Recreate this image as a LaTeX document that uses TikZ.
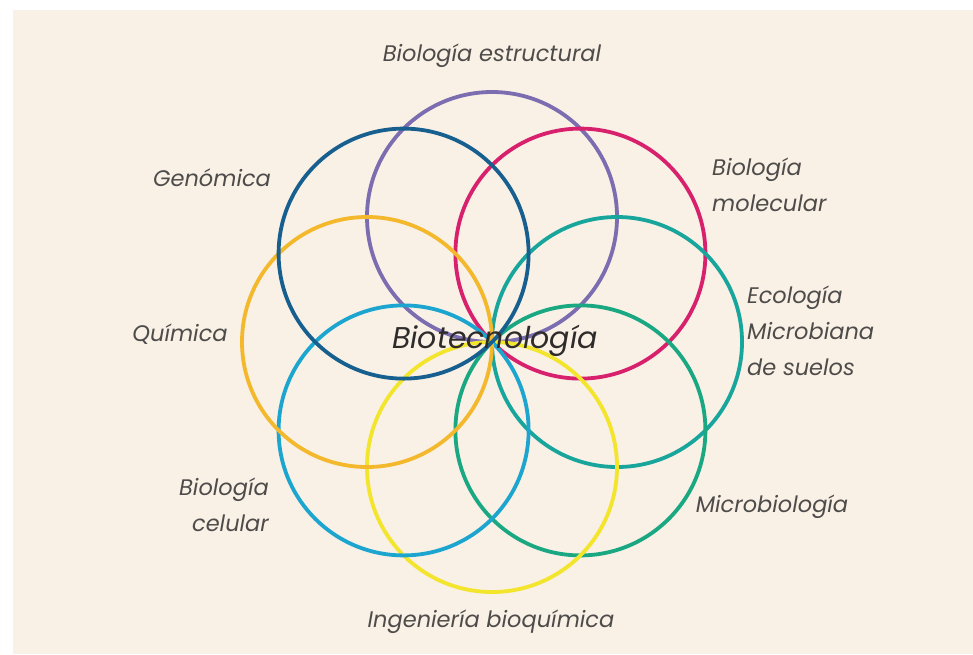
\documentclass[tikz,border=0pt]{standalone}
\usepackage{fontspec}
\setmainfont{Poppins}
\definecolor{bgbeige}{HTML}{F9F0E6}
\definecolor{labelgray}{HTML}{4E4C4A}
\definecolor{titlegray}{HTML}{2E2C2A}
\definecolor{cpurple}{HTML}{7B6DB0}
\definecolor{cpink}{HTML}{D8216C}
\definecolor{cteal}{HTML}{17A59C}
\definecolor{cgreen}{HTML}{1AA882}
\definecolor{cyellow}{HTML}{F2E52C}
\definecolor{ccyan}{HTML}{1CA6CF}
\definecolor{corange}{HTML}{F3B82C}
\definecolor{cdblue}{HTML}{165F8E}
\tikzset{
  ring/.style={circle, draw=#1, line width=3.8pt, minimum size=250pt, inner sep=0pt},
  lbl/.style={text=labelgray, font=\fontsize{22.5}{36}\selectfont\itshape, inner sep=0pt},
  title/.style={text=titlegray, font=\fontsize{30}{34}\selectfont\itshape, inner sep=0pt}
}
\begin{document}
\begin{tikzpicture}[x=1pt,y=-1pt]
\useasboundingbox (0,0) rectangle (973,654);
\fill[white] (0,0) rectangle (973,654);
\fill[bgbeige] (13,10) rectangle (973,654);
% rings
\node[ring=cpurple] (estr) at (492,217) {};
\node[ring=cpink] (molec) at (580.4,253.6) {};
\node[ring=cteal] (ecol) at (617,342) {};
\node[ring=cgreen] (micro) at (580.4,430.4) {};
\node[ring=cyellow] (ingen) at (492,467) {};
\node[ring=ccyan] (celul) at (403.6,430.4) {};
\node[ring=corange] (quim) at (367,342) {};
\node[ring=cdblue] (genom) at (403.6,253.6) {};
% labels
\node[title] (bio) at (495,341) {Biotecnología};
\node[lbl] (tEstr) at (492,56) {Biología estructural};
\node[lbl, align=left, anchor=west] (tMolec) at (712,185) {Biología\\molecular};
\node[lbl, align=left, anchor=west] (tEcol) at (747,331) {Ecología\\Microbiana\\de suelos};
\node[lbl] (tMicro) at (772,507) {Microbiología};
\node[lbl] (tIngen) at (491,622) {Ingeniería bioquímica};
\node[lbl, align=right, anchor=east] (tCelul) at (269,505) {Biología\\celular};
\node[lbl] (tQuim) at (180,334) {Química};
\node[lbl] (tGenom) at (212,178) {Genómica};
\end{tikzpicture}
\end{document}
